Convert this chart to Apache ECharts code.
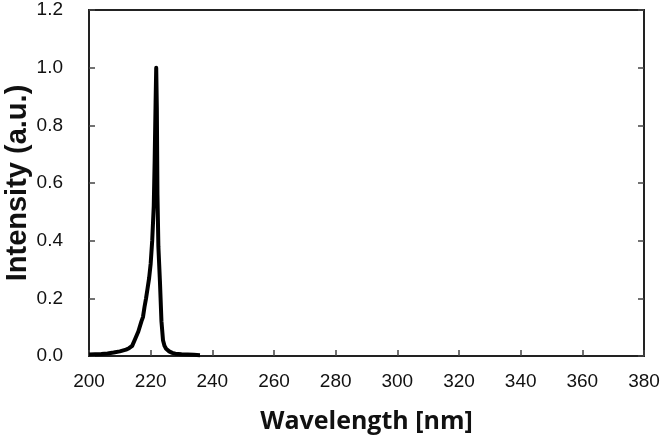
<!DOCTYPE html>
<html>
<head>
<meta charset="utf-8">
<script src="https://cdn.jsdelivr.net/npm/echarts@6/dist/echarts.min.js"></script>
<style>
  html, body { margin: 0; padding: 0; background: #fff; }
  #chart { width: 664px; height: 435px; }
</style>
</head>
<body>
<div id="chart"></div>
<script>
// emission spectrum
var wavelength = [200, 202, 204, 206, 208, 210, 212, 213, 214, 215, 216, 217, 217.5, 218, 218.5, 219, 219.5, 220, 220.5, 221, 221.3, 221.6, 221.8, 222.0, 222.2, 222.5, 223, 223.5, 224, 224.5, 225, 226, 227, 228, 230, 232, 234, 236];
var intensity = [0.005, 0.006, 0.007, 0.009, 0.012, 0.016, 0.022, 0.027, 0.035, 0.06, 0.085, 0.12, 0.135, 0.17, 0.2, 0.235, 0.27, 0.32, 0.4, 0.52, 0.68, 0.88, 1.0, 0.86, 0.56, 0.38, 0.26, 0.12, 0.055, 0.035, 0.025, 0.016, 0.011, 0.008, 0.006, 0.005, 0.004, 0.003];
var xTicks = { min: 200, max: 380, step: 20 };
var yTicks = { min: 0, max: 1.2, step: 0.2 };

var points = [];
for (var i = 0; i < wavelength.length; i++) {
    points.push([wavelength[i], intensity[i]]);
}

var axisColor = '#222';
var labelFont = { fontFamily: 'Liberation Sans', fontSize: 19, color: '#111' };

var chart = echarts.init(document.getElementById('chart'));
chart.setOption({
    animation: false,
    grid: {
        left: 89, right: 20, top: 10, bottom: 79,
        outerBoundsMode: 'none',
        containLabel: false,
        show: true, borderColor: axisColor, borderWidth: 2, backgroundColor: 'transparent'
    },
    xAxis: [{
        type: 'value',
        min: xTicks.min, max: xTicks.max, interval: xTicks.step,
        name: 'Wavelength [nm]',
        nameLocation: 'middle',
        nameGap: 53,
        nameTextStyle: { fontFamily: 'Open Sans', fontWeight: 'bold', fontSize: 25, color: '#111' },
        axisLine: { lineStyle: { color: axisColor, width: 2 } },
        axisTick: { inside: true, length: 6, lineStyle: { color: '#444', width: 1.5 } },
        axisLabel: $extend({ margin: 16 }, labelFont),
        splitLine: { show: false }
    }],
    yAxis: [{
        type: 'value',
        min: yTicks.min, max: yTicks.max, interval: yTicks.step,
        name: 'Intensity (a.u.)',
        nameLocation: 'middle',
        nameGap: 57,
        nameMoveOverlap: false,
        nameTextStyle: { fontFamily: 'Liberation Sans', fontWeight: 'bold', fontSize: 29, color: '#111' },
        axisLine: { lineStyle: { color: axisColor, width: 2 } },
        axisTick: { inside: true, length: 6, lineStyle: { color: '#444', width: 1.5 } },
        axisLabel: $extend({ margin: 26, formatter: function (v) { return v.toFixed(1); } }, labelFont),
        splitLine: { show: false }
    }, {
        type: 'value',
        position: 'right',
        min: yTicks.min, max: yTicks.max, interval: yTicks.step,
        axisLine: { show: true, lineStyle: { color: axisColor, width: 2 } },
        axisTick: { inside: true, length: 6, lineStyle: { color: '#444', width: 1.5 } },
        axisLabel: { show: false },
        splitLine: { show: false }
    }],
    series: [{
        type: 'line',
        data: points,
        showSymbol: false,
        lineStyle: { color: '#000', width: 4, join: 'round' },
        itemStyle: { color: '#000' }
    }]
});

function $extend(a, b) {
    for (var k in b) { a[k] = b[k]; }
    return a;
}
</script>
</body>
</html>
